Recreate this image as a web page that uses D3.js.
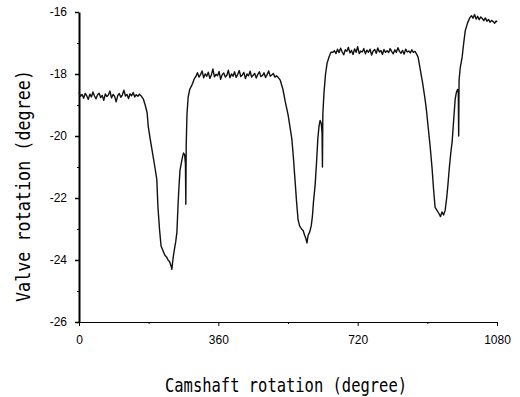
<!DOCTYPE html>
<html>
<head>
<meta charset="utf-8">
<script src="https://cdn.jsdelivr.net/npm/d3@7"></script>
<style>
  body { margin: 0; background: #fff; }
  svg { display: block; }
  .tick text { font-family: "Liberation Sans", Arial, sans-serif; font-size: 12px; fill: #000; }
  .title { font-family: "DejaVu Sans Mono", monospace; font-size: 20px; fill: #000; }
</style>
</head>
<body>
<svg id="chart" width="520" height="397"></svg>
<script>
// camshaft angle (degree) and valve rotation (degree)
const camAngle = [
  0, 4, 8, 12, 16, 20, 24, 28, 32, 36, 40, 44, 48, 52, 56, 60, 64, 68, 72, 76, 80, 84, 88, 92, 96, 100, 104, 108, 112, 116, 120, 124, 128, 132, 136, 140, 144, 148, 152, 156, 160,
  166, 171, 176, 179, 184, 188, 192, 196, 201, 204, 208, 212, 217, 222, 226, 230, 234, 238, 240, 243, 246, 250, 253, 256, 258, 261, 264, 267, 270, 273, 275, 276, 277, 279, 282, 286, 292, 298,
  302, 306, 310, 314, 318, 322, 326, 330, 334, 338, 342, 346, 350, 354, 358, 362, 366, 370, 374, 378, 382, 386, 390, 394, 398, 402, 406, 410, 414, 418, 422, 426, 430, 434, 438, 442, 446, 450, 454, 458, 462, 466, 470, 474, 478, 482, 486, 490, 494, 498, 502, 506, 510,
  514, 520, 527, 533, 540, 545, 550, 554, 558, 562, 566, 570, 575, 579, 583, 586, 589, 592, 596, 600, 603, 606, 610, 614, 617, 620, 623, 626, 628, 629, 630, 633, 637, 641, 646, 651, 656,
  660, 664, 668, 672, 676, 680, 684, 688, 692, 696, 700, 704, 708, 712, 716, 720, 724, 728, 732, 736, 740, 744, 748, 752, 756, 760, 764, 768, 772, 776, 780, 784, 788, 792, 796, 800, 804, 808, 812, 816, 820, 824, 828, 832, 836, 840, 844, 848, 852, 856, 860, 864, 868, 872,
  876, 881, 888, 894, 898, 902, 907, 912, 916, 920, 925, 930, 934, 938, 942, 946, 950, 953, 957, 961, 964, 968, 972, 975, 978, 980, 981, 982, 985, 990, 994, 998, 1004, 1010,
  1014, 1018, 1022, 1026, 1030, 1034, 1038, 1042, 1046, 1050, 1054, 1058, 1062, 1066, 1070, 1074, 1078, 1080
];
const valveRot = [
  -18.60, -18.72, -18.66, -18.78, -18.63, -18.70, -18.82, -18.65, -18.74, -18.58, -18.71, -18.80, -18.67, -18.62, -18.76, -18.69, -18.85, -18.64, -18.73, -18.68,
  -18.55, -18.77, -18.66, -18.72, -18.90, -18.70, -18.63, -18.75, -18.68, -18.52, -18.71, -18.66, -18.79, -18.64, -18.70, -18.60, -18.74, -18.67, -18.72, -18.65, -18.70,
  -18.8, -19.0, -19.25, -19.7, -20.1, -20.4, -20.7, -21.0, -21.4, -22.3, -23.0, -23.55, -23.7, -23.85, -23.9, -24.0, -24.05, -24.2, -24.3, -23.95, -23.7, -23.4, -23.1, -22.2, -21.7, -21.1, -20.9, -20.7, -20.55, -20.6, -20.9, -22.2, -20.3, -19.3, -18.75, -18.5, -18.35, -18.15,
  -18.08, -17.96, -18.10, -18.02, -17.90, -18.12, -18.00, -18.07, -17.94, -18.14, -18.03, -17.84, -18.09, -18.01, -18.06, -17.92, -18.17, -18.02, -17.97, -18.10,
  -18.04, -17.88, -18.12, -18.00, -18.07, -17.93, -18.11, -18.02, -17.89, -18.08, -18.03, -17.95, -18.15, -18.00, -18.06, -17.91, -18.10, -18.04, -17.98, -18.13,
  -18.01, -17.93, -18.08, -18.05, -17.96, -18.11, -18.02, -17.90, -18.07, -18.03, -17.98, -18.10, -18.06,
  -18.1, -18.2, -18.5, -18.9, -19.3, -19.7, -20.1, -20.7, -21.4, -22.1, -22.7, -22.9, -23.0, -23.05, -23.2, -23.3, -23.45, -23.2, -23.1, -22.9, -22.6, -22.1, -21.6, -20.8, -20.1, -19.7, -19.5, -19.6, -19.9, -21.0, -19.3, -18.6, -18.0, -17.65, -17.45, -17.3, -17.3,
  -17.25, -17.34, -17.20, -17.31, -17.17, -17.29, -17.38, -17.22, -17.27, -17.14, -17.32, -17.24, -17.37, -17.19, -17.30, -17.12, -17.34, -17.26, -17.29, -17.18,
  -17.35, -17.23, -17.30, -17.20, -17.39, -17.26, -17.21, -17.33, -17.16, -17.29, -17.24, -17.37, -17.21, -17.30, -17.25, -17.31, -17.18, -17.28, -17.35, -17.22,
  -17.30, -17.15, -17.27, -17.33, -17.24, -17.36, -17.20, -17.29, -17.26, -17.32, -17.22, -17.30, -17.27, -17.35,
  -17.45, -17.8, -18.3, -18.8, -19.2, -19.7, -20.3, -21.0, -21.7, -22.3, -22.4, -22.5, -22.6, -22.45, -22.55, -22.4, -22.0, -21.6, -21.0, -20.5, -20.2, -19.5, -18.8, -18.6, -18.5, -18.6, -20.0, -18.2, -17.8, -17.45, -17.0, -16.6, -16.35, -16.18,
  -16.12, -16.20, -16.08, -16.23, -16.14, -16.25, -16.16, -16.21, -16.28, -16.19, -16.30, -16.24, -16.33, -16.27, -16.31, -16.36, -16.29, -16.33
];

const xTicks = [0, 360, 720, 1080];
const xTickLabels = ["0", "360", "720", "1080"];
const xMinorTicks = [180, 540, 900];
const yTicks = [-26, -24, -22, -20, -18, -16];
const yTickLabels = ["-26", "-24", "-22", "-20", "-18", "-16"];
const yMinorTicks = [-25, -23, -21, -19, -17];

const margin = { left: 79, right: 23, top: 12, bottom: 75 };
const width = 520, height = 397;

const svg = d3.select("#chart");

const x = d3.scaleLinear().domain([0, 1080]).range([margin.left, width - margin.right]);
const y = d3.scaleLinear().domain([-26, -16]).range([height - margin.bottom, margin.top]);

// minor ticks first, majors drawn on top
svg.append("g")
  .attr("transform", "translate(0," + (height - margin.bottom) + ")")
  .call(d3.axisBottom(x).tickValues(xMinorTicks).tickSize(2).tickSizeOuter(0).tickFormat(""))
  .call(g => g.select(".domain").remove());

svg.append("g")
  .attr("transform", "translate(" + margin.left + ",0)")
  .call(d3.axisLeft(y).tickValues(yMinorTicks).tickSize(2).tickSizeOuter(0).tickFormat(""))
  .call(g => g.select(".domain").remove());

const xAxis = svg.append("g")
  .attr("transform", "translate(0," + (height - margin.bottom) + ")")
  .call(d3.axisBottom(x).tickValues(xTicks).tickSize(4).tickSizeOuter(0).tickPadding(9)
    .tickFormat((d, i) => xTickLabels[i]));
xAxis.select(".domain").attr("stroke-width", 1.2);

const yAxis = svg.append("g")
  .attr("transform", "translate(" + margin.left + ",0)")
  .call(d3.axisLeft(y).tickValues(yTicks).tickSize(4).tickSizeOuter(0).tickPadding(8)
    .tickFormat((d, i) => yTickLabels[i]));
yAxis.select(".domain").attr("stroke-width", 2);
yAxis.selectAll(".tick line").attr("stroke-width", 1.5);

// the trace
const line = d3.line()
  .x((d, i) => x(camAngle[i]))
  .y(d => y(d));

svg.append("path")
  .datum(valveRot)
  .attr("d", line)
  .attr("fill", "none")
  .attr("stroke", "#111")
  .attr("stroke-width", 1.4)
  .attr("stroke-linejoin", "round");

// axis titles
svg.append("text")
  .attr("class", "title")
  .attr("x", 165)
  .attr("y", 392)
  .attr("textLength", 242)
  .attr("lengthAdjust", "spacingAndGlyphs")
  .text("Camshaft rotation (degree)");

svg.append("text")
  .attr("class", "title")
  .attr("transform", "translate(30,302) rotate(-90)")
  .attr("textLength", 232)
  .attr("lengthAdjust", "spacingAndGlyphs")
  .text("Valve rotation (degree)");
</script>
</body>
</html>
